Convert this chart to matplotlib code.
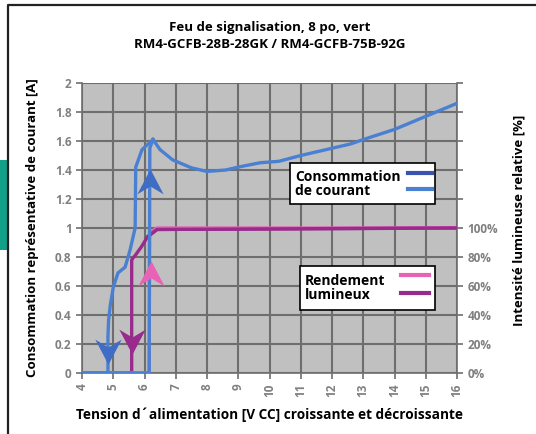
import numpy as np
import matplotlib.pyplot as plt
from matplotlib.path import Path
from matplotlib.patches import Rectangle
from matplotlib.lines import Line2D

# current consumption [A]
i_main_v = [6.27, 6.5, 6.9, 7.5, 8.0, 8.6, 9.0, 9.7, 10.3, 11.0, 12.0, 12.6, 13.0, 14.0, 15.0, 16.0]
i_main_a = [1.61, 1.54, 1.47, 1.415, 1.39, 1.40, 1.42, 1.45, 1.46, 1.50, 1.55, 1.58, 1.61, 1.68, 1.77, 1.86]
i_up_v = [4.0, 6.15, 6.17, 6.27]
i_up_a = [0, 0, 1.55, 1.61]
i_down_v = [6.27, 5.92, 5.72, 5.70, 5.54, 5.38, 5.15, 5.0, 4.9, 4.85, 4.83, 4.83, 4.0]
i_down_a = [1.61, 1.54, 1.42, 1.0, 0.85, 0.73, 0.69, 0.59, 0.46, 0.36, 0.25, 0, 0]

# relative luminous intensity [%]
lum_up_v = [4.0, 6.15, 6.16, 6.25, 6.4, 16.0]
lum_up_p = [0, 0, 95, 98, 100, 100]
lum_dn_v = [16.0, 6.4, 6.1, 5.9, 5.7, 5.62, 5.59, 5.59, 4.0]
lum_dn_p = [100, 99, 94, 87, 81, 79, 78, 0, 0]

# arrow heads: (volts, value on left axis, direction)
arrows = [(4.83, 0.15, -1, '#3f6cc4'), (6.17, 1.32, 1, '#3f6cc4'),
          (5.60, 0.22, -1, '#982b8c'), (6.20, 0.68, 1, '#e862b6')]

x_ticks = list(range(4, 17))
y_ticks = [0, 0.2, 0.4, 0.6, 0.8, 1, 1.2, 1.4, 1.6, 1.8, 2]
y_labels = ['0', '0.2', '0.4', '0.6', '0.8', '1', '1.2', '1.4', '1.6', '1.8', '2']
pct_ticks = [0, 20, 40, 60, 80, 100]

BLUE = '#4a80d2'
DBLUE = '#3a55b0'
PINK = '#e862b6'
PURPLE = '#982b8c'
GRID = '#6e6e6e'
TICK = '#808080'

plt.rcParams['font.family'] = ['Open Sans', 'DejaVu Sans']

W, H = 536, 434
fig = plt.figure(figsize=(W / 100, H / 100), dpi=100)


def fx(px):
    return px / W


def fy(py):
    return 1 - py / H


ax = fig.add_axes([fx(82), fy(373), fx(457) - fx(82), fy(83) - fy(373)])
ax.set_facecolor('#c0c0c0')
ax.set_xlim(4, 16)
ax.set_ylim(0, 2)
ax.set_xticks(x_ticks)
ax.set_xticklabels([str(t) for t in x_ticks], rotation=90)
ax.set_yticks(y_ticks)
ax.set_yticklabels(y_labels)
ax.grid(True, color=GRID, linewidth=1.5)
ax.set_axisbelow(True)
for s in ax.spines.values():
    s.set_color(GRID)
    s.set_linewidth(1.2)
ax.spines['top'].set_visible(False)
ax.tick_params(colors=GRID, labelcolor=TICK, length=4, width=1.2, labelsize=8.5)
for lab in ax.get_xticklabels() + ax.get_yticklabels():
    lab.set_fontweight('bold')

ax2 = ax.twinx()
ax2.set_ylim(0, 200)
ax2.set_yticks(list(range(0, 201, 20)))
ax2.set_yticklabels([f'{p}%' if p in pct_ticks else '' for p in range(0, 201, 20)])
ax2.tick_params(colors=GRID, labelcolor=TICK, length=4, width=1.2, labelsize=8.5)
for lab in ax2.get_yticklabels():
    lab.set_fontweight('bold')
for s in ax2.spines.values():
    s.set_visible(False)

lw = 2.4
ax2.plot(lum_dn_v, lum_dn_p, color=PURPLE, lw=lw, solid_joinstyle='round')
ax2.plot(lum_up_v, lum_up_p, color=PINK, lw=lw, solid_joinstyle='round')
ax2.plot(lum_dn_v[:3], lum_dn_p[:3], color=PURPLE, lw=lw)
ax2.plot(i_down_v, [a * 100 for a in i_down_a], color=BLUE, lw=lw, solid_joinstyle='round')
ax2.plot(i_up_v, [a * 100 for a in i_up_a], color=BLUE, lw=lw, solid_joinstyle='round')
ax2.plot(i_main_v, [a * 100 for a in i_main_a], color=BLUE, lw=lw, solid_joinstyle='round')

head = Path([(0, 0.5), (0.5, -0.45), (0, -0.15), (-0.5, -0.45), (0, 0.5)],
            [Path.MOVETO, Path.LINETO, Path.LINETO, Path.LINETO, Path.CLOSEPOLY])
head_dn = Path([(x, -y) for x, y in head.vertices], head.codes)
for v, a, d, c in arrows:
    ax2.plot([v], [a * 100], marker=head if d > 0 else head_dn, markersize=19,
             color=c, markeredgewidth=0)

# titles and axis labels
fig.text(fx(270), fy(27), 'Feu de signalisation, 8 po, vert', ha='center', va='center',
         fontsize=9.5, fontweight='bold')
fig.text(fx(270), fy(45), 'RM4-GCFB-28B-28GK / RM4-GCFB-75B-92G', ha='center', va='center',
         fontsize=9.5, fontweight='bold')
fig.text(fx(33), fy(228), 'Consommation représentative de courant [A]', rotation=90,
         ha='center', va='center', fontsize=9.5, fontweight='bold')
fig.text(fx(519), fy(220), 'Intensité lumineuse relative [%]', rotation=90,
         ha='center', va='center', fontsize=9.5, fontweight='bold')
fig.text(fx(270), fy(415), 'Tension d´alimentation [V CC] croissante et décroissante',
         ha='center', va='center', fontsize=9.8, fontweight='bold')


# legend boxes
def legend_box(x0, y0, x1, y1, label, tx, ty, c1, c2, sx0, sx1, sy1, sy2):
    fig.patches.append(Rectangle((fx(x0), fy(y1)), fx(x1) - fx(x0), fy(y0) - fy(y1),
                                 transform=fig.transFigure, facecolor='white',
                                 edgecolor='black', linewidth=1.2, zorder=5))
    fig.text(fx(tx), fy(ty), label, ha='left', va='center', fontsize=10,
             fontweight='bold', linespacing=1.0, zorder=6)
    for c, sy in ((c1, sy1), (c2, sy2)):
        fig.lines.append(Line2D([fx(sx0), fx(sx1)], [fy(sy), fy(sy)], color=c, lw=3,
                                transform=fig.transFigure, zorder=6))


legend_box(290, 163, 435, 204, 'Consommation\nde courant', 295, 184, DBLUE, BLUE, 408, 432, 173, 189)
legend_box(300, 266, 435, 310, 'Rendement\nlumineux', 305, 288, PINK, PURPLE, 401, 429, 275, 293)

# frame and side tab
fig.lines.append(Line2D([fx(8), fx(8), fx(536)], [0, fy(5), fy(5)], color='#222222', lw=1.6,
                        transform=fig.transFigure))
fig.patches.append(Rectangle((0, fy(250)), fx(7), fy(160) - fy(250), transform=fig.transFigure,
                             facecolor='#12a088', edgecolor='none'))

fig.savefig('out.png', dpi=100)
